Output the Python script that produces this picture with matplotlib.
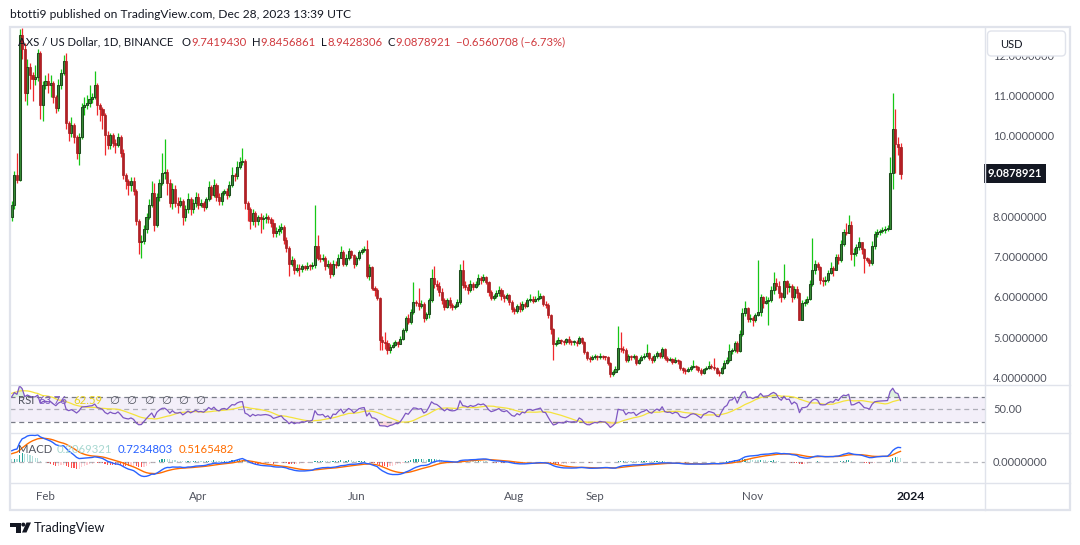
import numpy as np
import pandas as pd
import matplotlib
matplotlib.use("Agg")
import matplotlib.pyplot as plt
from matplotlib.patches import Rectangle, FancyBboxPatch, Circle, Polygon

W, H = 1080, 545

# AXS / USD daily candles, 2023-01-18 .. 2023-12-28 (open = previous close)
start_date = "2023-01-18"
first_open = 8.55
close = [
    # Jan 18-31
    8.00, 8.30, 9.05, 8.93, 12.54, 12.20, 11.10, 11.75, 11.55, 11.45, 11.50, 12.10, 10.80, 11.30,
    # Feb
    11.40, 11.30, 11.35, 11.00, 10.72, 11.30, 11.60, 11.90, 10.35, 10.10,
    10.30, 10.00, 9.60, 10.00, 10.75, 10.80, 10.85, 10.95, 11.00, 11.30,
    10.80, 10.70, 10.55, 10.05, 9.80, 10.05, 9.85, 9.80,
    # Mar
    10.00, 9.60, 9.05, 8.90, 8.80, 8.90, 8.65, 7.90, 7.40, 7.42,
    7.70, 8.00, 8.30, 8.60, 7.80, 8.50, 8.85, 9.10, 9.12, 8.85,
    8.35, 8.70, 8.35, 8.30, 8.40, 8.00, 8.20, 8.45, 8.20, 8.35, 8.50,
    # Apr
    8.30, 8.35, 8.25, 8.45, 8.75, 8.55, 8.80, 8.50, 8.40, 8.60,
    8.65, 8.55, 8.80, 9.05, 9.02, 9.25, 9.37, 9.40, 8.35, 8.20,
    7.90, 8.10, 7.92, 8.00, 7.95, 7.98, 8.00, 7.95, 7.85, 7.60,
    # May
    7.65, 7.70, 7.75, 7.45, 7.25, 6.85, 6.95, 6.70, 6.75, 6.72,
    6.78, 6.75, 6.80, 6.78, 6.82, 7.30, 7.00, 6.97, 7.00, 6.78,
    6.85, 6.60, 6.85, 6.82, 7.00, 7.15, 6.85, 7.00, 7.17, 7.07, 6.85,
    # Jun
    6.98, 7.13, 7.18, 7.21, 6.55, 6.76, 6.25, 6.20, 6.00, 4.95,
    4.90, 4.88, 4.70, 4.78, 4.82, 4.90, 4.85, 4.97, 5.20, 5.50,
    5.40, 5.65, 5.90, 5.88, 5.80, 5.85, 5.50, 5.60, 5.95, 6.50,
    # Jul
    6.35, 6.30, 6.15, 5.95, 5.78, 5.95, 5.82, 5.78, 5.80, 5.90,
    6.70, 6.32, 6.28, 6.20, 6.35, 6.28, 6.35, 6.50, 6.45, 6.52,
    6.40, 6.15, 6.00, 6.05, 6.12, 6.20, 6.05, 6.00, 6.06, 5.90, 5.73,
    # Aug
    5.67, 5.80, 5.71, 5.85, 5.80, 5.95, 5.98, 5.93, 5.97, 6.00,
    6.04, 5.85, 5.83, 5.57, 5.23, 4.85, 4.88, 4.95, 4.92, 4.90,
    4.97, 4.90, 4.89, 4.90, 4.87, 5.00, 4.90, 4.65, 4.50, 4.48, 4.52,
    # Sep
    4.55, 4.52, 4.56, 4.53, 4.52, 4.37, 4.10, 4.15, 4.22, 4.75,
    4.72, 4.70, 4.45, 4.55, 4.52, 4.55, 4.37, 4.45, 4.52, 4.55,
    4.62, 4.50, 4.45, 4.55, 4.62, 4.55, 4.72, 4.50, 4.46, 4.47,
    # Oct
    4.40, 4.45, 4.42, 4.25, 4.20, 4.18, 4.22, 4.28, 4.30, 4.27,
    4.20, 4.12, 4.22, 4.25, 4.30, 4.28, 4.25, 4.14, 4.12, 4.25,
    4.39, 4.45, 4.68, 4.70, 4.87, 4.68, 5.10, 5.61, 5.74, 5.47, 5.50,
    # Nov
    5.44, 5.58, 5.64, 6.01, 5.88, 5.92, 5.95, 6.19, 6.36, 6.30,
    6.11, 6.02, 6.42, 6.26, 6.30, 6.03, 6.22, 6.11, 5.46, 5.88,
    5.90, 5.98, 6.34, 6.69, 6.84, 6.76, 6.44, 6.42, 6.44, 6.62,
    # Dec 1-28
    6.73, 6.70, 7.01, 6.94, 7.34, 7.63, 7.60, 7.81, 7.09, 7.12,
    7.27, 7.40, 7.21, 6.98, 6.94, 6.86, 7.30, 7.58, 7.64, 7.67,
    7.68, 7.70, 7.72, 9.11, 10.19, 9.83, 9.742, 9.0878921,
]
high = [
    9.00, 8.42, 9.15, 9.60, 12.68, 12.72, 12.35, 11.95, 11.85, 11.62, 11.80, 12.20, 12.15, 11.40,
    11.55, 11.60, 11.55, 11.40, 11.05, 11.45, 11.70, 12.05, 12.10, 10.40,
    10.50, 10.35, 10.05, 10.10, 10.85, 11.00, 11.05, 11.30, 11.10, 11.65,
    11.35, 10.85, 10.75, 10.60, 10.15, 10.10, 10.10, 9.95,
    10.10, 10.05, 9.70, 9.10, 8.95, 9.00, 9.00, 8.70, 7.95, 7.55,
    7.80, 8.10, 8.45, 8.90, 8.85, 8.60, 8.95, 9.60, 9.95, 9.20,
    8.95, 8.85, 8.80, 8.50, 8.50, 8.45, 8.30, 8.60, 8.50, 8.45, 8.62,
    8.60, 8.45, 8.40, 8.50, 8.90, 8.80, 8.95, 8.85, 8.60, 8.65,
    8.70, 8.72, 8.90, 9.25, 9.10, 9.40, 9.50, 9.72, 9.45, 8.40,
    8.25, 8.20, 8.15, 8.05, 8.10, 8.05, 8.10, 8.05, 8.00, 7.95,
    7.75, 7.80, 7.85, 7.80, 7.50, 7.30, 7.05, 7.00, 6.85, 6.85,
    6.85, 6.82, 6.90, 6.85, 6.90, 8.30, 7.55, 7.10, 7.08, 7.05,
    6.95, 6.90, 6.95, 6.92, 7.10, 7.30, 7.20, 7.08, 7.25, 7.20, 7.10,
    7.05, 7.20, 7.25, 7.30, 7.44, 6.85, 6.80, 6.30, 6.25, 6.02,
    5.05, 5.15, 4.95, 4.85, 4.90, 4.95, 4.93, 5.05, 5.25, 5.55,
    5.60, 5.72, 6.40, 5.95, 6.25, 5.95, 5.90, 5.65, 6.00, 6.72,
    6.80, 6.45, 6.40, 6.25, 6.00, 6.00, 6.02, 5.88, 5.85, 5.98,
    6.85, 6.95, 6.42, 6.35, 6.45, 6.40, 6.42, 6.60, 6.55, 6.60,
    6.55, 6.42, 6.20, 6.10, 6.20, 6.30, 6.25, 6.10, 6.12, 6.10, 5.95,
    5.78, 5.85, 5.90, 5.92, 5.90, 6.00, 6.10, 6.05, 6.05, 6.20,
    6.12, 6.08, 5.92, 5.88, 5.60, 5.25, 4.95, 5.02, 4.98, 4.95,
    5.00, 5.05, 4.95, 4.95, 4.95, 5.05, 5.02, 4.92, 4.68, 4.55, 4.58,
    4.60, 4.58, 4.62, 4.58, 4.56, 4.55, 4.40, 4.20, 4.30, 5.30,
    5.15, 4.80, 4.75, 4.60, 4.58, 4.60, 4.58, 4.50, 4.58, 4.62,
    4.85, 4.65, 4.55, 4.60, 4.68, 4.65, 4.78, 4.75, 4.55, 4.52,
    4.50, 4.52, 4.48, 4.45, 4.28, 4.25, 4.27, 4.32, 4.45, 4.33,
    4.30, 4.25, 4.25, 4.30, 4.42, 4.35, 4.50, 4.28, 4.20, 4.30,
    4.45, 4.52, 4.85, 4.75, 4.92, 4.92, 5.20, 5.75, 5.92, 5.78, 5.60,
    5.55, 5.62, 6.94, 6.10, 6.05, 6.05, 6.02, 6.30, 6.65, 6.50,
    6.42, 6.15, 6.85, 6.45, 6.38, 6.35, 6.30, 6.30, 6.15, 5.95,
    5.96, 6.05, 6.45, 7.48, 6.95, 6.90, 6.80, 6.52, 6.55, 6.70,
    6.90, 6.80, 7.10, 7.08, 7.45, 7.70, 7.85, 8.05, 7.90, 7.25,
    7.35, 7.50, 7.40, 7.25, 7.02, 6.98, 7.42, 7.65, 7.70, 7.72,
    7.75, 7.78, 7.80, 9.50, 11.10, 10.69, 10.00, 9.8456861,
]
low = [
    7.78, 7.90, 8.20, 8.85, 8.90, 11.95, 10.90, 10.80, 11.20, 10.90, 11.30, 11.40, 10.45, 10.40,
    11.20, 11.10, 11.00, 10.85, 10.60, 10.65, 11.20, 11.55, 10.20, 9.90,
    10.00, 9.85, 9.45, 9.30, 9.95, 10.55, 10.70, 10.75, 10.85, 10.95,
    10.55, 10.40, 10.20, 9.55, 9.70, 9.70, 9.75, 9.60,
    9.75, 9.50, 8.95, 8.70, 8.55, 8.65, 8.55, 7.80, 7.10, 7.00,
    7.35, 7.60, 7.95, 8.25, 7.65, 7.75, 8.40, 8.80, 8.95, 8.55,
    8.25, 8.20, 8.25, 8.10, 8.25, 7.80, 7.90, 8.10, 8.05, 8.10, 8.25,
    8.20, 8.25, 8.15, 8.20, 8.40, 8.45, 8.50, 8.40, 8.30, 8.30,
    8.55, 8.45, 8.50, 8.75, 8.90, 8.95, 9.20, 9.30, 8.20, 7.90,
    7.70, 7.80, 7.75, 7.80, 7.60, 7.70, 7.85, 7.85, 7.75, 7.50,
    7.50, 7.55, 7.60, 7.35, 7.15, 6.55, 6.80, 6.60, 6.65, 6.55,
    6.65, 6.68, 6.70, 6.70, 6.72, 6.75, 6.95, 6.90, 6.92, 6.70,
    6.75, 6.50, 6.55, 6.75, 6.80, 7.05, 6.78, 6.80, 6.95, 7.00, 6.75,
    6.80, 6.95, 7.10, 7.15, 6.50, 6.45, 6.20, 6.05, 5.95, 4.70,
    4.70, 4.72, 4.60, 4.62, 4.75, 4.80, 4.78, 4.85, 4.95, 5.15,
    5.35, 5.35, 5.60, 5.80, 5.70, 5.75, 5.40, 5.45, 5.50, 5.90,
    6.25, 6.20, 6.05, 5.85, 5.70, 5.75, 5.75, 5.70, 5.72, 5.78,
    5.85, 6.25, 6.20, 6.10, 6.15, 6.20, 6.25, 6.30, 6.35, 6.40,
    6.35, 6.05, 5.95, 5.95, 6.00, 6.05, 5.95, 5.90, 5.95, 5.82, 5.65,
    5.60, 5.62, 5.65, 5.68, 5.75, 5.78, 5.90, 5.88, 5.90, 5.92,
    5.96, 5.80, 5.75, 5.50, 5.10, 4.45, 4.80, 4.85, 4.85, 4.82,
    4.85, 4.85, 4.82, 4.82, 4.80, 4.85, 4.85, 4.60, 4.45, 4.40, 4.45,
    4.48, 4.45, 4.48, 4.48, 4.45, 4.32, 4.02, 4.05, 4.12, 4.20,
    4.65, 4.62, 4.40, 4.40, 4.45, 4.48, 4.32, 4.35, 4.42, 4.48,
    4.52, 4.45, 4.38, 4.40, 4.50, 4.50, 4.50, 4.45, 4.40, 4.42,
    4.35, 4.38, 4.35, 4.20, 4.12, 4.10, 4.15, 4.18, 4.25, 4.20,
    4.15, 4.08, 4.10, 4.20, 4.22, 4.22, 4.20, 4.10, 4.05, 4.10,
    4.22, 4.35, 4.40, 4.60, 4.65, 4.62, 4.65, 5.05, 5.55, 5.40, 5.40,
    5.30, 5.40, 5.55, 5.55, 5.75, 5.85, 5.32, 5.90, 6.10, 6.20,
    6.00, 5.90, 5.98, 6.10, 6.15, 5.90, 5.98, 6.00, 5.45, 5.45,
    5.80, 5.85, 5.95, 6.30, 6.60, 6.70, 6.35, 6.30, 6.33, 6.40,
    6.60, 6.55, 6.70, 6.85, 6.90, 7.30, 7.55, 7.60, 6.95, 6.80,
    7.05, 7.20, 7.10, 6.62, 6.88, 6.80, 6.82, 7.22, 7.50, 7.55,
    7.60, 7.62, 7.65, 7.70, 8.70, 9.11, 9.55, 8.9428306,
]
# closes before the visible range (2022-12-01 .. 2023-01-17), only for indicator warm-up
warmup_close = [
    6.95, 6.90, 6.85, 6.80, 6.92, 6.88, 6.75, 6.80, 6.78, 6.72, 6.70, 6.65, 6.70, 6.68, 6.45, 6.20,
    6.25, 6.15, 6.05, 6.12, 6.10, 6.05, 6.08, 6.10, 6.07, 6.02, 5.98, 5.90, 5.95, 6.00, 5.98,
    6.05, 6.10, 6.15, 6.25, 6.20, 6.35, 6.50, 6.70, 6.95, 6.90, 7.10, 7.40, 7.95, 8.50, 8.40, 8.60, 8.55,
]

price_ticks = [12, 11, 10, 8, 7, 6, 5, 4]
time_ticks = [("2023-02-01", "Feb"), ("2023-04-01", "Apr"), ("2023-06-01", "Jun"),
              ("2023-08-01", "Aug"), ("2023-09-01", "Sep"), ("2023-11-01", "Nov"),
              ("2024-01-01", "2024")]
header = "btotti9 published on TradingView.com, Dec 28, 2023 13:39 UTC"
symbol = "AXS / US Dollar, 1D, BINANCE"
ohlc_text = [("O", "9.7419430"), ("H", "9.8456861"), ("L", "8.9428306"), ("C", "9.0878921")]
change_text = "\u22120.6560708 (\u22126.73%)"
rsi_legend = ["63.76", "62.59"]
macd_legend = ["0.2069321", "0.7234803", "0.5165482"]

UP_BODY, UP_EDGE, UP_WICK = "#378d37", "#1d4d1d", "#16c716"
DN_BODY, DN_EDGE, DN_WICK = "#b41f24", "#a51c20", "#f0282c"
TXT, AXT, GRID = "#131722", "#50535e", "#e0e3eb"
RED_TXT = "#d03a3f"
LEG_FS, AX_FS = 8.2, 8.0

plt.rcParams["font.family"] = ["Lato", "DejaVu Sans"]


def frac(x0, y0, x1, y1):
    return [x0 / W, 1 - y1 / H, (x1 - x0) / W, (y1 - y0) / H]


def ema(x, n):
    return pd.Series(x).ewm(span=n, adjust=False).mean().to_numpy()


def rsi(x, n=14):
    d = np.diff(x, prepend=x[0])
    up = pd.Series(np.clip(d, 0, None)).ewm(alpha=1 / n, adjust=False).mean()
    dn = pd.Series(np.clip(-d, 0, None)).ewm(alpha=1 / n, adjust=False).mean()
    return (100 - 100 / (1 + up / dn)).to_numpy()


close = np.array(close)
high = np.array(high)
low = np.array(low)
n = len(close)
idx = np.arange(n)
opn = np.concatenate([[first_open], close[:-1]])
up = close >= opn

full = np.concatenate([warmup_close, close])
rsi_full = rsi(full)
rsi_ma = pd.Series(rsi_full).rolling(14).mean().to_numpy()[-n:]
rsi_v = rsi_full[-n:]
macd_full = ema(full, 12) - ema(full, 26)
signal_full = ema(macd_full, 9)
hist_full = macd_full - signal_full
macd_v, signal_v, hist_v = macd_full[-n:], signal_full[-n:], hist_full[-n:]
hist_prev = hist_full[-n - 1:-1]

x0_px, px_per_bar = 9.2, 2.591
xlim = ((10 - x0_px) / px_per_bar, (984.5 - x0_px) / px_per_bar)

fig = plt.figure(figsize=(W / 100, H / 100), dpi=100, facecolor="white")

# price pane
ax = fig.add_axes(frac(10, 27, 984.5, 384.5))
ax.set_axis_off()
ax.set_xlim(*xlim)
ax.set_ylim(10 - (384.5 - 137) / 40.2, 10 + (137 - 27) / 40.2)
ax.vlines(idx[up], low[up], high[up], color=UP_WICK, lw=0.9)
ax.vlines(idx[~up], low[~up], high[~up], color=DN_WICK, lw=0.9)
body_lo = np.minimum(opn, close)
body_h = np.maximum(np.abs(close - opn), 0.025)
ax.bar(idx[up], body_h[up], bottom=body_lo[up], width=0.8,
       color=UP_BODY, edgecolor=UP_EDGE, linewidth=0.75, zorder=3)
ax.bar(idx[~up], body_h[~up], bottom=body_lo[~up], width=0.8,
       color=DN_BODY, edgecolor=DN_EDGE, linewidth=0.5, zorder=3)

ytr = ax.get_yaxis_transform()
lab_x = (993 - 10) / 974.5
for v in price_ticks:
    ax.text(lab_x, v, f"{v:.7f}", transform=ytr, ha="left", va="center",
            fontsize=AX_FS, color=AXT, clip_on=False)
ax.text((988 - 10) / 974.5, close[-1], f"{close[-1]:.7f}", transform=ytr,
        ha="left", va="center", fontsize=AX_FS, color="white", fontweight="bold",
        clip_on=False, zorder=6,
        bbox=dict(boxstyle="square,pad=0.35", fc=TXT, ec="none"))

# RSI pane
ax_r = fig.add_axes(frac(10, 384.5, 984.5, 433.3))
ax_r.set_axis_off()
ax_r.set_xlim(*xlim)
ax_r.set_ylim(10.7, 90.7)
ax_r.axhspan(30, 70, color="#7e57c2", alpha=0.09, lw=0)
for lvl, a in [(70, 1.0), (30, 1.0), (50, 0.55)]:
    ax_r.axhline(lvl, color="#787b86", lw=0.9, ls=(0, (4, 3)), alpha=a)
ax_r.fill_between(idx, 70, rsi_v, where=rsi_v > 70, color="#4caf50", alpha=0.18,
                  lw=0, interpolate=True)
ax_r.fill_between(idx, 30, rsi_v, where=rsi_v < 30, color="#f23645", alpha=0.18,
                  lw=0, interpolate=True)
ax_r.plot(idx, rsi_ma, color="#f5e33c", lw=0.9)
ax_r.plot(idx, rsi_v, color="#7e57c2", lw=0.9)
ax_r.text(lab_x, 50, "50.00", transform=ax_r.get_yaxis_transform(), ha="left",
          va="center", fontsize=AX_FS, color=AXT, clip_on=False)

# MACD pane
ax_m = fig.add_axes(frac(10, 433.3, 984.5, 482.7))
ax_m.set_axis_off()
ax_m.set_xlim(*xlim)
ax_m.set_ylim(-(482.7 - 462) / 20.3, (462 - 433.3) / 20.3)
ax_m.axhline(0, color="#787b86", lw=0.9, ls=(0, (4, 3)), alpha=0.55)
hist_cols = np.where(hist_v >= 0,
                     np.where(hist_v > hist_prev, "#26a69a", "#b2dfdb"),
                     np.where(hist_v > hist_prev, "#ffcdd2", "#ff5252"))
ax_m.bar(idx, hist_v, width=0.45, color=hist_cols, lw=0)
ax_m.plot(idx, signal_v, color="#ff6d00", lw=1.0)
ax_m.plot(idx, macd_v, color="#2962ff", lw=1.0)
ax_m.text(lab_x, 0, "0.0000000", transform=ax_m.get_yaxis_transform(), ha="left",
          va="center", fontsize=AX_FS, color=AXT, clip_on=False)

# time axis labels
t0 = np.datetime64(start_date)
for d, lab in time_ticks:
    i = (np.datetime64(d) - t0).astype(int)
    bold = lab == "2024"
    ax_m.text(i, -(496 - 482.7) / 49.4, lab, transform=ax_m.get_xaxis_transform(),
              ha="center", va="center", fontsize=8.8 if bold else 8.3,
              color=TXT if bold else AXT, fontweight="bold" if bold else "normal",
              clip_on=False)

# overlay in pixel coordinates: frame, legends, header
ov = fig.add_axes([0, 0, 1, 1], zorder=10)
ov.set_xlim(0, W)
ov.set_ylim(H, 0)
ov.set_axis_off()
ov.patch.set_alpha(0)

ov.add_patch(Rectangle((9.5, 27), 1060.5, 482.5, fill=False, ec=GRID, lw=1.6))
ov.plot([984.5, 984.5], [27, 509.5], color=GRID, lw=1.0)
for yy in (384.5, 433.3, 482.7):
    ov.plot([9.5, 1070], [yy, yy], color=GRID, lw=1.0)

ov.add_patch(FancyBboxPatch((987.5, 31), 78, 25, boxstyle="round,pad=0,rounding_size=4",
                            fc="white", ec=GRID, lw=1.0))
ov.text(1000, 44, "USD", ha="left", va="center", fontsize=8.0, color=TXT)

ov.text(10.5, 14.5, header, ha="left", va="center", fontsize=8.65, color=TXT)


def legend_row(x, y, parts, size=LEG_FS):
    prev = ov.text(x, y, parts[0][0], ha="left", va="baseline", fontsize=size,
                   color=parts[0][1])
    for txt, col, gap in parts[1:]:
        prev = ov.annotate(txt, xy=(1, 0), xycoords=prev, xytext=(gap, 0),
                           textcoords="offset points", ha="left", va="bottom",
                           fontsize=size, color=col)


parts = [(symbol, TXT)]
for k, (letter, val) in enumerate(ohlc_text):
    parts.append((letter, TXT, 6.0 if k == 0 else 3.8))
    parts.append((val, RED_TXT, 0.3))
parts.append((change_text, RED_TXT, 3.8))
legend_row(18, 45.5, parts)

legend_row(18, 404, [("RSI", "#50535e"), (rsi_legend[0], "#7e57c2", 3.0),
                     (rsi_legend[1], "#e8d21f", 4.0)]
           + [("\u2205", "#50535e", 5.2)] * 6)
legend_row(18, 453, [("MACD", "#50535e"), (macd_legend[0], "#a8d8d1", 3.0),
                     (macd_legend[1], "#2962ff", 4.0), (macd_legend[2], "#ff6d00", 4.0)])

# TradingView logo + wordmark
ov.add_patch(Polygon([(10, 522.5), (20.5, 522.5), (20.5, 532.5), (16, 532.5),
                      (16, 526.5), (10, 526.5)], closed=True, fc=TXT, ec="none"))
ov.add_patch(Circle((23.3, 524.6), 2.0, fc=TXT, ec="none"))
ov.add_patch(Polygon([(26.5, 522.5), (31, 522.5), (26.5, 532.5), (22, 532.5)],
                     closed=True, fc=TXT, ec="none"))
ov.text(33.5, 527.5, "TradingView", ha="left", va="center", fontsize=9.3, color=TXT)

fig.savefig("out.png", dpi=100, facecolor="white")
